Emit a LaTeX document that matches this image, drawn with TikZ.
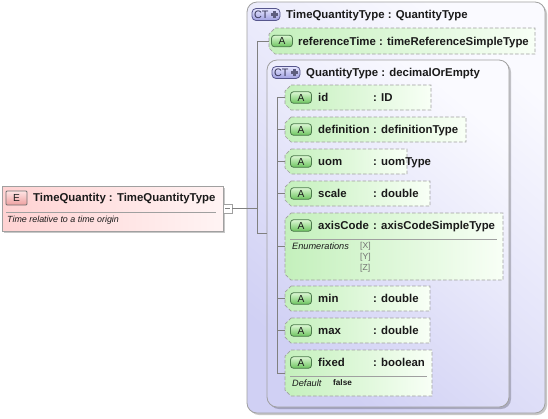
\documentclass[tikz,border=0pt]{standalone}
\usepackage{fontspec}
\setmainfont{Liberation Sans}
\usetikzlibrary{calc,shadows}

\definecolor{lavA}{HTML}{D0D0F4}
\definecolor{lavB}{HTML}{FAFAFF}
\definecolor{grnA}{HTML}{C4F0BC}
\definecolor{grnB}{HTML}{F8FFF6}
\definecolor{pinkA}{HTML}{FFD2D2}
\definecolor{pinkB}{HTML}{FFF4F4}
\definecolor{bord}{HTML}{A0A0A0}
\definecolor{connc}{HTML}{808080}
\definecolor{ctbord}{HTML}{56568C}
\definecolor{ctfillA}{HTML}{E6E6FF}
\definecolor{ctfillB}{HTML}{A0A0E0}
\definecolor{ctplusc}{HTML}{5E5E7E}
\definecolor{abord}{HTML}{4C7A4C}
\definecolor{afillA}{HTML}{DCF8D4}
\definecolor{afillB}{HTML}{6CC45E}
\definecolor{ebord}{HTML}{707070}
\definecolor{efillA}{HTML}{FFE4E4}
\definecolor{efillB}{HTML}{EEA0A0}
\definecolor{txt}{HTML}{1A1A1A}
\definecolor{enumc}{HTML}{707070}

\newcommand\AttrBox[5]{%
  \node[attrnode, minimum width=#4bp, minimum height=#5bp, anchor=north west] (#1) at (#2,#3) {};
  \path[attrshape] ($(#1.north west)+(6bp,0)$) -- (#1.north east) -- (#1.south east)
     -- ($(#1.south west)+(6bp,0)$) -- ($(#1.south west)+(0,6bp)$)
     -- ($(#1.north west)+(0,-6bp)$) -- cycle;
}
\newcommand\CTBadge[3]{%
  \node[ctbadge] (#1) at (#2,#3) {};
  \node[ctletters, anchor=west] at ($(#1.west)+(2.2bp,0)$) {CT};
  \draw[ctplus] ($(#1.east)+(-5.8bp,3.6bp)$) -- ++(0,-7.2bp);
  \draw[ctplus] ($(#1.east)+(-9.4bp,0)$) -- ++(7.2bp,0);
}

\begin{document}
\begin{tikzpicture}[x=1bp,y=-1bp,
  ctbox/.style={draw=bord, line width=0.8bp, rounded corners=10bp, top color=lavB, bottom color=lavA, shading angle=-40, inner sep=0, outer sep=0,
    drop shadow={shadow xshift=2bp, shadow yshift=-2bp, opacity=0.22, fill=black}},
  attrnode/.style={rectangle, inner sep=0, outer sep=0, draw=none},
  attrshape/.style={draw=bord, line width=0.7bp, dash pattern=on 3.5bp off 2bp, left color=grnA, right color=grnB},
  elbox/.style={rectangle, draw=bord, line width=0.8bp, left color=pinkA, right color=pinkB, inner sep=0, outer sep=0,
    drop shadow={shadow xshift=2bp, shadow yshift=-2bp, opacity=0.22, fill=black}},
  ctbadge/.style={draw=ctbord, line width=0.8bp, rounded corners=4bp, top color=ctfillA, bottom color=ctfillB, minimum width=28bp, minimum height=12bp, inner sep=0},
  ctletters/.style={font=\fontsize{10.8bp}{11bp}\selectfont, text=ctbord!60!black, inner sep=0},
  ctplus/.style={draw=ctplusc, line width=2.4bp},
  abadge/.style={draw=abord, line width=0.8bp, rounded corners=3bp, top color=afillA, bottom color=afillB, minimum width=21bp, minimum height=11.5bp, inner sep=0, font=\fontsize{10.2bp}{11bp}\selectfont, text=txt},
  ebadge/.style={draw=ebord, line width=0.8bp, rounded corners=1bp, top color=efillA, bottom color=efillB, minimum width=21bp, minimum height=14bp, inner sep=0, font=\fontsize{10.2bp}{11bp}\selectfont, text=txt},
  hdr/.style={font=\fontsize{11.4bp}{13bp}\selectfont\bfseries, text=txt, inner sep=0},
  desc/.style={font=\fontsize{8.9bp}{10bp}\selectfont\itshape, text=txt, inner sep=0},
  small/.style={font=\fontsize{9.2bp}{10bp}\selectfont\itshape, text=txt, inner sep=0},
  smallb/.style={font=\fontsize{8.2bp}{10bp}\selectfont\bfseries, text=txt, inner sep=0},
  enumv/.style={font=\fontsize{8.6bp}{10bp}\selectfont, text=enumc, inner sep=0},
  sepline/.style={draw=bord, line width=0.8bp},
  conn/.style={draw=connc, line width=0.7bp},
  minusbox/.style={rectangle, draw=bord, fill=white, line width=0.7bp, minimum size=9bp, inner sep=0,
    path picture={\draw[connc, line width=0.7bp] ($(path picture bounding box.west)+(2bp,0)$) -- ($(path picture bounding box.east)+(-2bp,0)$);}}
]
\fill[white] (0,0) rectangle (548,418);
\useasboundingbox (0,0) rectangle (548,418);

% outer complex type
\node[ctbox, minimum width=298bp, minimum height=411bp, anchor=north west] (outer) at (247,2) {};
\CTBadge{ctA}{266}{14.5}
\node[hdr, anchor=base west] (outerT) at (286,18) {TimeQuantityType : QuantityType};

% referenceTime
\AttrBox{ref}{269}{28}{266}{26}
\node[abadge] (refA) at (282,41) {A};
\node[hdr, anchor=base west] (refT) at (298,45) {referenceTime : timeReferenceSimpleType};

% inner complex type
\node[ctbox, minimum width=242bp, minimum height=347bp, anchor=north west] (inner) at (267,60) {};
\CTBadge{ctB}{286}{72.5}
\node[hdr, anchor=base west] (innerT) at (306,76) {QuantityType : decimalOrEmpty};

% attributes
\foreach \nm/\tp/\w/\h/\ty in {id/85/146/25/{: ID}, definition/117/181/25/{: definitionType}, uom/149/122/25/{: uomType}, scale/181/145/25/{: double}, axisCode/213/218/67/{: axisCodeSimpleType}, min/286/145/25/{: double}, max/318/145/25/{: double}, fixed/350/147/46/{: boolean}}{
  \AttrBox{\nm}{285}{\tp}{\w}{\h}
  \node[abadge] (\nm A) at (301,\tp+12.5) {A};
  \node[hdr, anchor=base west] (\nm N) at (318,\tp+16) {\nm};
  \node[hdr, anchor=base west] (\nm T) at (373,\tp+16) {\ty};
}

% axisCode enumerations
\draw[sepline] (290,239) -- (497,239);
\node[small, anchor=base west] (enumL) at (292,249) {Enumerations};
\node[enumv, anchor=base west] (enX) at (360,248.5) {[X]};
\node[enumv, anchor=base west] (enY) at (360,259.5) {[Y]};
\node[enumv, anchor=base west] (enZ) at (360,270.5) {[Z]};

% fixed default
\draw[sepline] (290,376) -- (427,376);
\node[small, anchor=base west] (defL) at (292,386) {Default};
\node[smallb, anchor=base west] (defV) at (333,385.5) {false};

% element
\node[elbox, minimum width=221bp, minimum height=45bp, anchor=north west] (el) at (2,186) {};
\node[ebadge] (elE) at (16.5,198) {E};
\node[hdr, anchor=base west] (elT) at (33,201) {TimeQuantity : TimeQuantityType};
\draw[sepline] (6,212) -- (216,212);
\node[desc, anchor=base west] (elD) at (7,222) {Time relative to a time origin};
\node[minusbox] (mb) at (227.5,208.5) {};

% connectors
\coordinate (otrunk) at (257,0);
\coordinate (itrunk) at (277,0);
\draw[conn] (mb.east) -- (mb.east -| otrunk);
\draw[conn] (ref.west) -- (ref.west -| otrunk) -- (inner.west -| otrunk) -- (inner.west);
\draw[conn] (id.west) -- (id.west -| itrunk) -- (fixed.west -| itrunk) -- (fixed.west);
\foreach \n in {definition,uom,scale,axisCode,min,max}{
  \draw[conn] (\n.west) -- (\n.west -| itrunk);
}
\end{tikzpicture}
\end{document}
